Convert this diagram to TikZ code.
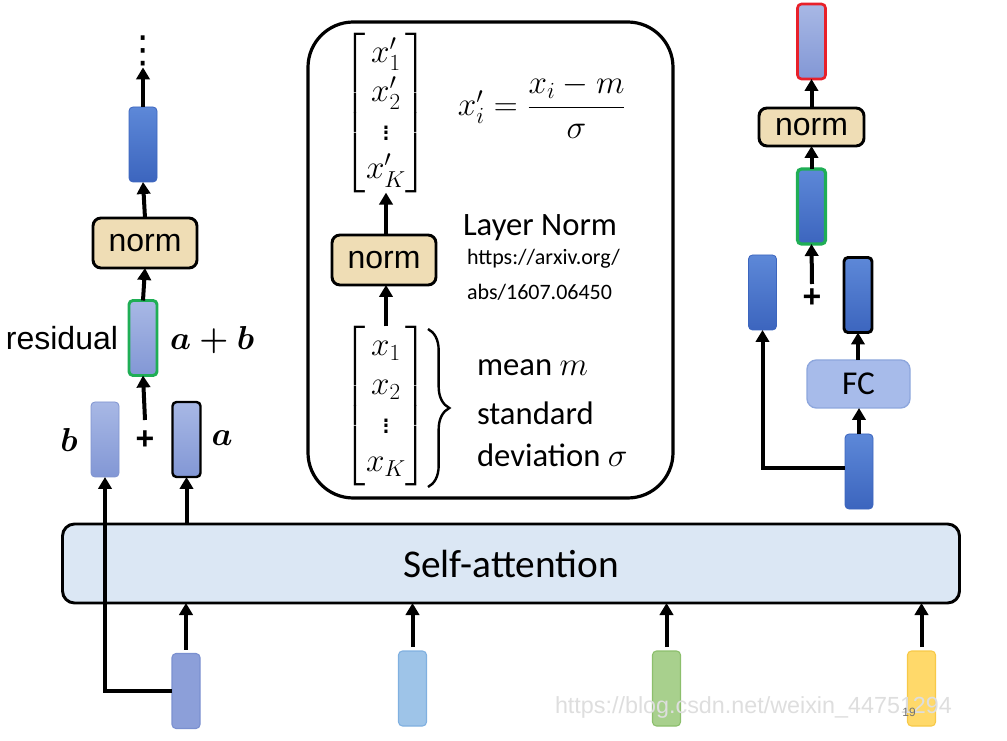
\documentclass[tikz,border=0pt]{standalone}
\usepackage{amsmath}
\usepackage[no-math]{fontspec}
\setmainfont{Liberation Sans}
\newfontfamily\calibri{Carlito}
\newfontfamily\djv{DejaVu Sans}
\usetikzlibrary{arrows.meta,decorations.pathreplacing}
\newlength\pxu \setlength\pxu{0.75pt}
\definecolor{dkTop}{HTML}{5D88D8}
\definecolor{dkBot}{HTML}{3C65BE}
\definecolor{ltTop}{HTML}{A8B8E5}
\definecolor{ltBot}{HTML}{8297D5}
\definecolor{ltEdge}{HTML}{7F93CF}
\definecolor{normFill}{HTML}{EFDDB5}
\definecolor{saFill}{HTML}{DBE7F4}
\definecolor{resGreen}{HTML}{1FAE55}
\definecolor{outRed}{HTML}{E8202A}
\definecolor{fcFill}{HTML}{A7BBEA}
\definecolor{fcEdge}{HTML}{8EA7DD}
\definecolor{inBlue}{HTML}{9EC4E8}
\definecolor{inBlueE}{HTML}{80B0E0}
\definecolor{inGreen}{HTML}{A8D08D}
\definecolor{inGreenE}{HTML}{8CBF6C}
\definecolor{inYellow}{HTML}{FFD96A}
\definecolor{inYellowE}{HTML}{F7C948}
\definecolor{inPurple}{HTML}{8C9FD9}
\definecolor{inPurpleE}{HTML}{7B90D0}
\tikzset{
  every node/.style={inner sep=0pt, outer sep=0pt},
  arr/.style={line width=3pt, -{Triangle[length=9pt,width=10pt]}},
  vec/.style={rounded corners=3pt, minimum width=28\pxu, minimum height=75\pxu},
  vdark/.style={vec, top color=dkTop, bottom color=dkBot, draw=dkBot, line width=0.6pt},
  vlight/.style={vec, top color=ltTop, bottom color=ltBot, draw=ltEdge, line width=0.6pt},
  vin/.style 2 args={vec, fill=#1, draw=#2, line width=0.8pt},
  normbox/.style={draw=black, line width=2.2pt, fill=normFill, rounded corners=6pt,
    font=\fontsize{24}{28}\selectfont},
  sabox/.style={draw=black, line width=2.2pt, fill=saFill, rounded corners=9pt,
    minimum width=897\pxu, minimum height=79\pxu, font=\calibri\fontsize{29.5}{34}\selectfont},
  bigbox/.style={draw=black, line width=2.4pt, rounded corners=34pt,
    minimum width=365\pxu, minimum height=476\pxu},
  fcbox/.style={draw=fcEdge, line width=1pt, fill=fcFill, rounded corners=7pt,
    minimum width=103\pxu, minimum height=48\pxu, font=\calibri\fontsize{25}{30}\selectfont},
  lbl/.style={font=\fontsize{24}{28}\selectfont},
  cal/.style={font=\calibri\fontsize{24.5}{29}\selectfont, anchor=west},
  url/.style={font=\calibri\fontsize{16.5}{20}\selectfont, anchor=west},
  mth/.style={font=\fontsize{24}{29}\selectfont},
  eqm/.style={font=\fontsize{27}{32}\selectfont},
  bmth/.style={font=\fontsize{25}{30}\selectfont},
  plus/.style={font=\bfseries\fontsize{24}{28}\selectfont},
}
\begin{document}
\begin{tikzpicture}[x=0.75pt,y=-0.75pt]
\useasboundingbox (0,0) rectangle (1007,741);

% ---------- self-attention ----------
\node[sabox] (sa) at (511,563.5) {Self-attention};

% ---------- left column ----------
\node[font=\djv\fontsize{28}{28}\selectfont] (ldots) at (143,51) {⋮};
\node[vdark] (l3) at (143,144.5) {};
\node[normbox, minimum width=104\pxu, minimum height=50\pxu] (lnorm) at (145,243) {norm};
\node[vlight, draw=resGreen, line width=2.2pt] (lres) at (143,338) {};
\node[lbl, anchor=east] (residual) at (118,338) {residual};
\node[bmth, anchor=west] (apb) at (170,340) {$\boldsymbol{a+b}$};
\node[plus] (lplus) at (145,440) {+};
\coordinate (lplustop) at (145,420);
\node[vlight] (lb) at (105,439.5) {};
\node[vlight, draw=black, line width=1.8pt] (la) at (186.5,439.5) {};
\node[bmth] (blab) at (69,440) {$\boldsymbol{b}$};
\node[bmth] (alab) at (222,438) {$\boldsymbol{a}$};

\draw[arr] (l3.north) -- ([yshift=-1pt]ldots.south);
\draw[arr] (lnorm.north) -- (l3.south);
\draw[arr] (lres.north) -- (lnorm.south);
\draw[arr] (lplustop) -- (lres.south);
\draw[arr] (la.south |- sa.north) -- (la.south);

% ---------- bottom inputs ----------
\node[vin={inPurple}{inPurpleE}] (b1) at (186,691) {};
\node[vin={inBlue}{inBlueE}] (b2) at (412.5,688.5) {};
\node[vin={inGreen}{inGreenE}] (b3) at (666.5,688.5) {};
\node[vin={inYellow}{inYellowE}] (b4) at (921.5,688.5) {};
\foreach \b in {b1,b2,b3,b4}{
  \draw[arr] ([yshift=3pt]\b.north) -- (\b.north |- sa.south);
}
\draw[arr] (b1.west) -| (lb.south);

% ---------- center box ----------
\node[bigbox] (cbox) at (490.5,260) {};
\node[mth] (topvec) at (386,113) {$\begin{bmatrix} x'_1\\ x'_2\\ \vdots\\ x'_K \end{bmatrix}$};
\node[eqm] (eq) at (542,106) {$x'_i = \dfrac{x_i - m}{\sigma}$};
\node[normbox, minimum width=104\pxu, minimum height=50\pxu] (cnorm) at (384,260) {norm};
\node[cal] (layernorm) at (463,228) {Layer Norm};
\node[url] (url1) at (467,259) {https://arxiv.org/};
\node[url] (url2) at (467,292) {abs/1607.06450};
\node[mth] (botvec) at (386,406) {$\begin{bmatrix} x_1\\ x_2\\ \vdots\\ x_K \end{bmatrix}$};
\coordinate (brTop) at (428,329);
\coordinate (brBot) at (428,487);
\draw[line width=1.8pt, decorate, decoration={brace, amplitude=16pt}] (brTop) -- (brBot);
\node[cal] (mean) at (477,368) {mean $m$};
\node[cal] (std) at (477,413) {standard};
\node[cal] (dev) at (477,455) {deviation $\sigma$};
\draw[arr] (cnorm.north -| topvec.south) -- (topvec.south);
\draw[arr] (botvec.north) -- (cnorm.south -| botvec.north);

% ---------- right column ----------
\node[vlight, draw=outRed, line width=2pt] (rred) at (811.5,41.5) {};
\node[normbox, minimum width=105\pxu, minimum height=38\pxu] (rnorm) at (811.5,127) {norm};
\node[vdark, draw=resGreen, line width=2.4pt] (rgreen) at (811.5,206.5) {};
\node[plus] (rplus) at (812,298) {+};
\coordinate (rplustop) at (812,284);
\node[vdark] (rleft) at (762.5,292.5) {};
\node[vdark, draw=black, line width=2.2pt] (rright) at (858,295) {};
\node[fcbox] (fc) at (858.5,384) {FC};
\node[vdark] (rbot) at (859,471.5) {};
\draw[arr] (rnorm.north) -- (rred.south);
\draw[arr] (rgreen.north) -- (rnorm.south);
\draw[arr] (rplustop) -- (rgreen.south);
\draw[arr] (fc.north -| rright.south) -- (rright.south);
\draw[arr] (rbot.north) -- (fc.south -| rbot.north);
\draw[arr] ([yshift=2.5pt]rbot.west) -| (rleft.south);

% ---------- watermark ----------
\node[anchor=west, text=black!13, font=\fontsize{17.5}{20}\selectfont] (wm) at (555,707) {https://blog.csdn.net/weixin\_44751294};
\node[text=black!55, font=\fontsize{9}{10}\selectfont] (pg) at (909,712) {19};
\end{tikzpicture}
\end{document}
